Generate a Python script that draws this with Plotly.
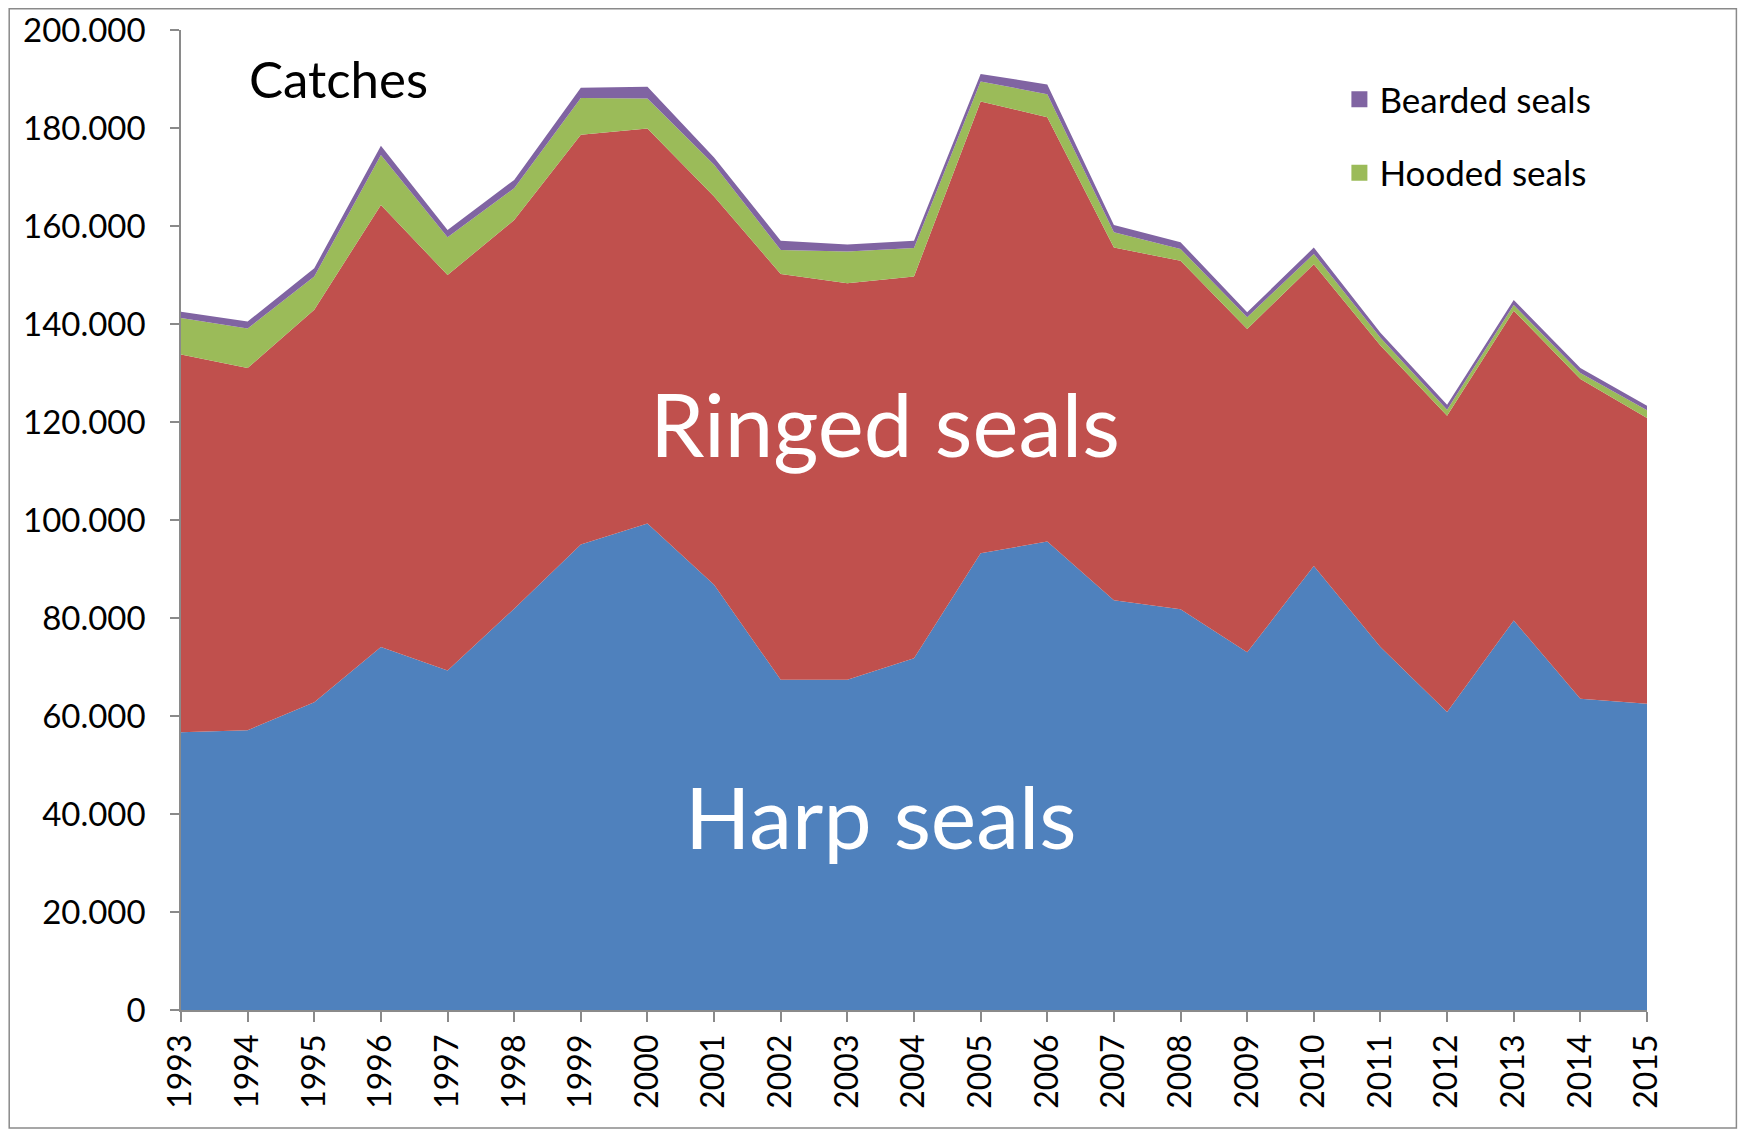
import plotly.graph_objects as go

years = list(range(1993, 2016))
harp = [56700, 57100, 62800, 74100, 69300, 81900, 95000, 99300, 86800, 67400, 67400, 71800,
        93200, 95600, 83600, 81800, 73000, 90600, 74100, 60800, 79500, 63500, 62500]
ringed = [77100, 73900, 80100, 90200, 80700, 79300, 83600, 80600, 79200, 82800, 80900, 77900,
          92200, 86600, 72000, 71100, 66000, 61600, 61500, 60500, 63200, 65300, 58300]
hooded = [7400, 8100, 6800, 10200, 7700, 6500, 7500, 6100, 6500, 4900, 6500, 5800,
          4100, 4700, 3100, 2400, 2400, 2100, 1600, 1200, 1200, 1200, 1600]
bearded = [1300, 1400, 1700, 1900, 1500, 1700, 2100, 2400, 1500, 1900, 1400, 1500,
           1500, 2000, 1500, 1400, 1000, 1300, 1000, 1000, 1000, 1000, 900]

C_HARP = "#4F81BD"
C_RING = "#C0504D"
C_HOOD = "#9BBB59"
C_BEARD = "#8064A2"

FONT = "Lato"

fig = go.Figure()
for name, vals, col in [("Harp seals", harp, C_HARP), ("Ringed seals", ringed, C_RING),
                        ("Hooded seals", hooded, C_HOOD), ("Bearded seals", bearded, C_BEARD)]:
    fig.add_trace(go.Scatter(x=years, y=vals, name=name, stackgroup="one", mode="lines",
                             line=dict(width=0, color=col), fillcolor=col, showlegend=False,
                             hoverinfo="x+y+name"))

# legend entries (square markers)
for name, col, grp in [("Bearded seals", C_BEARD, "b"), ("Hooded seals", C_HOOD, "h")]:
    fig.add_trace(go.Scatter(x=[None], y=[None], mode="markers", name=name, legendgroup=grp,
                             marker=dict(symbol="square", size=20, color=col)))

# page has an 8px body margin; figure sized to fit window
OFF = 8
W, H = 1748 - 2 * OFF, 1137 - 2 * OFF
# plot area in page coordinates
PX0, PX1, PY0, PY1 = 180.6, 1646.6, 30, 1010
L = PX0 - OFF
T = PY0 - OFF
R = W - (PX1 - OFF)
B = H - (PY1 - OFF)
pw = PX1 - PX0
ph = PY1 - PY0


def px(xp):  # page x -> paper x
    return (xp - PX0) / pw


def py(yp):  # page y -> paper y
    return (PY1 - yp) / ph


fig.update_layout(
    width=W, height=H,
    margin=dict(l=L, r=R, t=T, b=B, autoexpand=False),
    paper_bgcolor="white", plot_bgcolor="white",
    separators=",.",
    font=dict(family=FONT, color="black", size=32),
    legend=dict(x=px(1339), y=py(70), xanchor="left", yanchor="top",
                font=dict(size=35, family=FONT), tracegroupgap=25,
                bgcolor="rgba(0,0,0,0)", itemsizing="trace"),
    xaxis=dict(range=[1993, 2015], tickmode="array", tickvals=years, automargin=False,
               ticktext=[str(y) for y in years], tickangle=-90,
               showgrid=False, zeroline=False, showline=True, linecolor="#8a8a8a", linewidth=1.5,
               ticks="outside", ticklen=10, tickcolor="#8a8a8a", tickwidth=1.5,
               tickfont=dict(size=32, family=FONT)),
    yaxis=dict(range=[0, 200000], tickmode="linear", tick0=0, dtick=20000, tickformat=",d",
               automargin=False,
               showgrid=False, zeroline=False, showline=True, linecolor="#8a8a8a", linewidth=1.5,
               ticks="outside", ticklen=9, tickcolor="#8a8a8a", tickwidth=1.5,
               ticklabelstandoff=18, tickfont=dict(size=33, family=FONT)),
    shapes=[dict(type="rect", xref="paper", yref="paper",
                 x0=px(OFF + 0.8), x1=px(1736), y0=py(OFF + H - 1), y1=py(OFF + 0.8),
                 line=dict(color="#8a8a8a", width=1.5), fillcolor="rgba(0,0,0,0)", layer="below")],
    annotations=[
        dict(text="Catches", xref="paper", yref="paper", x=px(338), y=py(78),
             xanchor="center", yanchor="middle",
             showarrow=False, font=dict(size=51, family=FONT, color="black")),
        dict(text="Ringed seals", xref="paper", yref="paper", x=px(885), y=py(423),
             xanchor="center", yanchor="middle",
             showarrow=False, font=dict(size=87, family=FONT, color="white")),
        dict(text="Harp seals", xref="paper", yref="paper", x=px(881), y=py(815),
             xanchor="center", yanchor="middle",
             showarrow=False, font=dict(size=86, family=FONT, color="white")),
    ],
)

fig.write_html("out.html")
